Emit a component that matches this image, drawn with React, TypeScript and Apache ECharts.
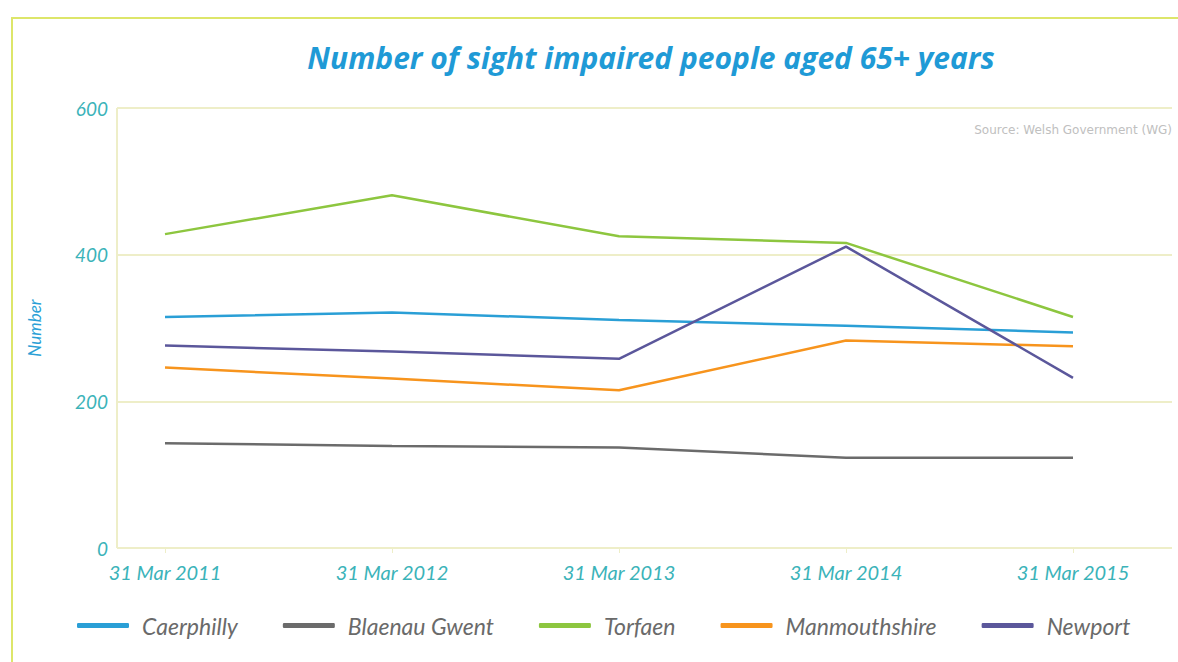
import React, { useEffect, useRef } from "react";
import * as echarts from "echarts";

const categories = ["31 Mar 2011", "31 Mar 2012", "31 Mar 2013", "31 Mar 2014", "31 Mar 2015"];
const caerphilly = [315, 321, 311, 303, 294];
const blaenauGwent = [143, 139, 137, 123, 123];
const torfaen = [428, 481, 425, 416, 315];
const monmouthshire = [246, 231, 215, 283, 275];
const newport = [276, 268, 258, 411, 232];
const yTicks = [0, 200, 400, 600];

const seriesDefs = [
  { name: "Caerphilly", values: caerphilly, color: "#2a9fd6" },
  { name: "Blaenau Gwent", values: blaenauGwent, color: "#6b6b6b" },
  { name: "Torfaen", values: torfaen, color: "#8dc63f" },
  { name: "Manmouthshire", values: monmouthshire, color: "#f7941d" },
  { name: "Newport", values: newport, color: "#5b579b" },
];

export default function App() {
  const ref = useRef<HTMLDivElement>(null);
  useEffect(() => {
    document.body.style.margin = "0";
    document.body.style.overflow = "hidden";
    const chart = echarts.init(ref.current!, null, { renderer: "svg" });
    const tealText = "#3bb3b9";
    const gridColor = "#eeeec8";
    chart.setOption({
      animation: false,
      backgroundColor: "transparent",
      title: {
        text: "Number of sight impaired people aged 65+ years",
        left: 646,
        textAlign: "center",
        top: 37,
        textStyle: {
          color: "#1f9ad6",
          fontFamily: "Open Sans",
          fontStyle: "italic",
          fontWeight: "bold",
          fontSize: 30,
        },
      },
      graphic: [
        {
          type: "line",
          shape: { x1: 117, y1: 108, x2: 117, y2: 548 },
          style: { stroke: gridColor, lineWidth: 2 },
          silent: true,
        },
        {
          type: "text",
          right: 6,
          top: 124,
          style: {
            text: "Source: Welsh Government (WG)",
            fill: "#c0c0c0",
            font: "12px 'DejaVu Sans'",
          },
        },
      ],
      legend: {
        bottom: 20,
        left: 72,
        itemWidth: 52,
        itemHeight: 5,
        itemGap: 45,
        icon: "roundRect",
        textStyle: {
          color: "#6a6a6a",
          fontFamily: "Lato",
          fontStyle: "italic",
          fontSize: 23,
          padding: [0, 0, 0, 8],
        },
        data: seriesDefs.map((s) => s.name),
      },
      grid: [
        { left: 117, right: 6, top: 108, bottom: 114 },
        { left: 165, right: 105, top: 108, bottom: 114 },
      ],
      xAxis: [
        { type: "value", gridIndex: 0, min: 0, max: 1, show: false },
        {
          type: "category",
          gridIndex: 1,
          data: categories,
          boundaryGap: false,
          axisLine: { show: false },
          axisTick: { show: true, length: 5, lineStyle: { color: gridColor } },
          splitLine: { show: false },
          axisLabel: {
            color: tealText,
            fontFamily: "Lato",
            fontStyle: "italic",
            fontSize: 20,
            margin: 14,
          },
        },
      ],
      yAxis: [
        {
          type: "value",
          gridIndex: 0,
          min: 0,
          max: 600,
          interval: 200,
          name: "Number",
          nameLocation: "middle",
          nameGap: 74,
          nameTextStyle: {
            color: "#2a9fd6",
            fontFamily: "Lato",
            fontStyle: "italic",
            fontSize: 17,
          },
          axisLine: { show: false },
          axisTick: { show: false },
          splitLine: { show: true, lineStyle: { color: gridColor, width: 2 } },
          axisLabel: {
            color: tealText,
            fontFamily: "Lato",
            fontStyle: "italic",
            fontSize: 19,
            margin: 9,
            formatter: (v: number) => (yTicks.includes(v) ? String(v) : ""),
          },
        },
        { type: "value", gridIndex: 1, min: 0, max: 600, show: false },
      ],
      series: seriesDefs.map((s) => ({
        name: s.name,
        type: "line",
        xAxisIndex: 1,
        yAxisIndex: 1,
        data: s.values,
        symbol: "none",
        color: s.color,
        lineStyle: { color: s.color, width: 2.5 },
      })),
    });
    return () => chart.dispose();
  }, []);
  return (
    <div
      style={{
        position: "relative",
        width: 1178,
        height: 662,
        overflow: "hidden",
        background: "#ffffff",
      }}
    >
      <div
        style={{
          position: "absolute",
          left: 11,
          top: 17,
          width: 1300,
          height: 800,
          border: "2.5px solid #dde66a",
          pointerEvents: "none",
        }}
      />
      <div ref={ref} style={{ position: "absolute", left: 0, top: 0, width: 1178, height: 662 }} />
    </div>
  );
}
